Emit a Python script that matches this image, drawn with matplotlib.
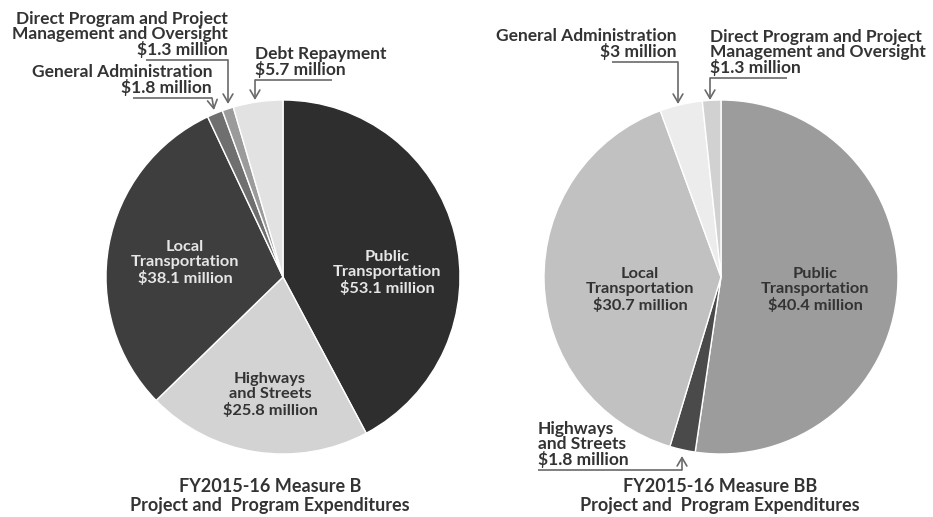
import matplotlib
matplotlib.use('Agg')
import matplotlib.pyplot as plt

# %% data
b_labels = ['Public Transportation', 'Highways and Streets', 'Local Transportation',
            'General Administration', 'Direct Program and Project Management and Oversight',
            'Debt Repayment']
b_values = [53.1, 25.8, 38.1, 1.8, 1.3, 5.7]
b_colors = ['#2e2e2e', '#d3d3d3', '#3e3e3e', '#6f6f6f', '#9b9b9b', '#e2e2e2']

bb_labels = ['Public Transportation', 'Highways and Streets', 'Local Transportation',
             'General Administration', 'Direct Program and Project Management and Oversight']
bb_values = [40.4, 1.8, 30.7, 3.0, 1.3]
bb_colors = ['#9c9c9c', '#4a4a4a', '#c1c1c1', '#ececec', '#d1d1d1']

b_title = 'FY2015-16 Measure B\nProject and  Program Expenditures'
bb_title = 'FY2015-16 Measure BB\nProject and  Program Expenditures'

H = 517
FONT = ['Lato', 'DejaVu Sans']
TXT = '#333333'
LN = '#6a6a6a'

fig = plt.figure(figsize=(9.33, 5.17), dpi=100)
ax = fig.add_axes([0, 0, 1, 1])


def Y(py):
    return H - py


# %% pies
wp = dict(edgecolor='white', linewidth=1.0)
ax.pie(b_values, colors=b_colors, startangle=90, counterclock=False,
       center=(283, Y(277)), radius=177, wedgeprops=wp, frame=True)
ax.pie(bb_values, colors=bb_colors, startangle=90, counterclock=False,
       center=(721, Y(277)), radius=177, wedgeprops=wp, frame=True)
ax.set_xlim(0, 933)
ax.set_ylim(0, H)
ax.set_aspect('equal')
ax.axis('off')


def inner(x, py, s, c):
    ax.text(x, Y(py), s, ha='center', va='center', color=c, fontsize=11.8,
            fontweight='bold', family=FONT, linespacing=1.1)


def money(v):
    return ('$%g million' % v)


inner(387, 273, 'Public\nTransportation\n' + money(b_values[0]), '#e6e6e6')
inner(185, 263, 'Local\nTransportation\n' + money(b_values[2]), '#e6e6e6')
inner(270, 395, 'Highways\nand Streets\n' + money(b_values[1]), TXT)
inner(640, 290, 'Local\nTransportation\n' + money(bb_values[2]), TXT)
inner(815, 290, 'Public\nTransportation\n' + money(bb_values[0]), TXT)


def callout(tx, ty, s, ha, pts):
    ax.text(tx, Y(ty), s, ha=ha, va='bottom', color=TXT, fontsize=12.5,
            fontweight='bold', family=FONT, linespacing=0.92)
    xs = [p[0] for p in pts[:-1]]
    ys = [Y(p[1]) for p in pts[:-1]]
    ax.plot(xs, ys, color=LN, lw=1.2, solid_capstyle='butt')
    ax.annotate('', xy=(pts[-1][0], Y(pts[-1][1])), xytext=(pts[-2][0], Y(pts[-2][1])),
                arrowprops=dict(arrowstyle='->,head_length=0.6,head_width=0.35',
                                color=LN, lw=1.2, shrinkA=0, shrinkB=0))


# Measure B callouts
callout(228, 58, 'Direct Program and Project\nManagement and Oversight\n' + money(b_values[4]),
        'right', [(146, 60), (228, 60), (228, 104)])
callout(212, 96, 'General Administration\n' + money(b_values[3]),
        'right', [(133, 98), (212, 98), (214, 110)])
callout(255, 78, 'Debt Repayment\n' + money(b_values[5]),
        'left', [(332, 80), (255, 80), (255, 100)])

# Measure BB callouts
callout(677, 60, 'General Administration\n' + money(bb_values[3]),
        'right', [(612, 62), (678, 62), (678, 104)])
callout(710, 76, 'Direct Program and Project\nManagement and Oversight\n' + money(bb_values[4]),
        'left', [(787, 78), (710, 78), (710, 100)])
callout(538, 468, 'Highways\nand Streets\n' + money(bb_values[1]),
        'left', [(538, 470), (682, 470), (682, 456)])

# titles
ax.text(270, Y(496), b_title, ha='center', va='center', color=TXT, fontsize=13,
        fontweight='bold', family=FONT, linespacing=1.15)
ax.text(720, Y(496), bb_title, ha='center', va='center', color=TXT, fontsize=13,
        fontweight='bold', family=FONT, linespacing=1.15)

fig.savefig('out.png', dpi=100, facecolor='white')
